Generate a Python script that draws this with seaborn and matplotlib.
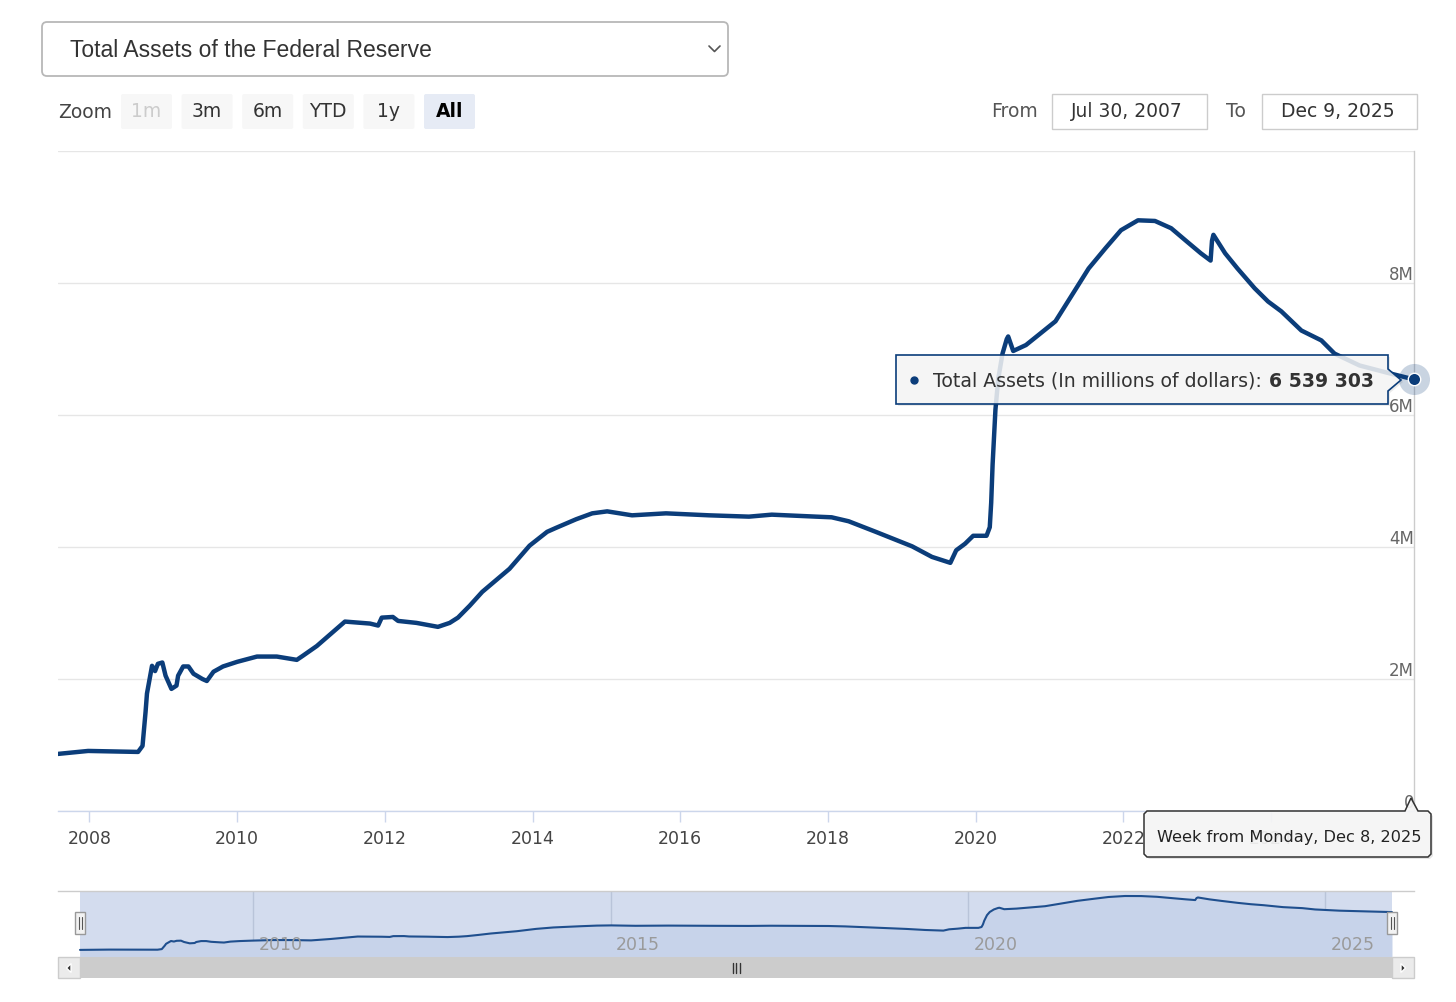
import numpy as np
import pandas as pd
import matplotlib
matplotlib.use("Agg")
import matplotlib.pyplot as plt
from matplotlib.patches import FancyBboxPatch, Rectangle, Polygon
import seaborn as sns

# ---------------- data ----------------
dates = [
    "2007-07-30", "2007-12-26", "2008-08-29", "2008-09-20", "2008-10-05", "2008-10-12",
    "2008-11-06", "2008-11-21", "2008-12-05", "2008-12-27", "2009-01-12", "2009-02-10",
    "2009-03-07", "2009-03-15", "2009-04-09", "2009-05-05", "2009-05-30", "2009-07-13",
    "2009-08-04", "2009-09-06", "2009-10-23", "2010-01-01", "2010-04-09", "2010-07-16",
    "2010-10-23", "2010-11-21", "2011-01-30", "2011-06-18", "2011-10-20", "2011-11-29",
    "2011-12-17", "2012-02-10", "2012-03-07", "2012-06-06", "2012-09-20", "2012-11-17",
    "2012-12-28", "2013-02-24", "2013-04-27", "2013-09-09", "2013-12-17", "2014-03-14",
    "2014-04-27", "2014-08-04", "2014-10-23", "2015-01-05", "2015-05-08", "2015-10-23",
    "2016-05-23", "2016-12-06", "2017-03-29", "2017-11-03", "2018-01-19", "2018-04-13",
    "2018-08-25", "2019-02-21", "2019-05-30", "2019-08-29", "2019-09-27", "2019-11-10",
    "2019-12-20", "2020-02-24", "2020-03-11", "2020-03-18", "2020-03-25", "2020-04-08",
    "2020-04-22", "2020-05-13", "2020-06-03", "2020-06-10", "2020-07-05", "2020-09-06",
    "2020-11-06", "2021-01-30", "2021-04-20", "2021-07-13", "2021-10-05", "2021-12-20",
    "2022-03-14", "2022-06-06", "2022-08-25", "2022-11-10", "2023-01-19", "2023-03-08",
    "2023-03-15", "2023-03-22", "2023-05-19", "2023-07-19", "2023-10-12", "2023-12-17",
    "2024-02-21", "2024-05-30", "2024-09-06", "2024-11-10", "2025-03-14", "2025-08-11",
    "2025-12-08",
]
assets = [  # millions of dollars
    865000, 910000, 895000, 986000, 1500000, 1780000,
    2200000, 2120000, 2230000, 2250000, 2050000, 1850000,
    1900000, 2050000, 2190000, 2190000, 2080000, 2000000,
    1970000, 2110000, 2190000, 2260000, 2340000, 2340000,
    2290000, 2350000, 2500000, 2870000, 2840000, 2810000,
    2930000, 2940000, 2880000, 2850000, 2790000, 2850000,
    2930000, 3110000, 3320000, 3670000, 4020000, 4230000,
    4290000, 4420000, 4510000, 4540000, 4480000, 4510000,
    4480000, 4460000, 4490000, 4460000, 4450000, 4390000,
    4230000, 4010000, 3850000, 3760000, 3950000, 4050000,
    4170000, 4170000, 4300000, 4670000, 5250000, 6080000,
    6550000, 6930000, 7150000, 7190000, 6970000, 7060000,
    7210000, 7420000, 7810000, 8220000, 8530000, 8800000,
    8950000, 8940000, 8830000, 8630000, 8450000, 8340000,
    8640000, 8730000, 8450000, 8220000, 7920000, 7720000,
    7570000, 7280000, 7130000, 6930000, 6750000, 6630000,
    6539303,
]

x_tick_years = [2008, 2010, 2012, 2014, 2016, 2018, 2020, 2022, 2024]
nav_tick_years = [2010, 2015, 2020, 2025]
y_ticks = [0, 2000000, 4000000, 6000000, 8000000, 10000000]
y_tick_labels = ["0", "2M", "4M", "6M", "8M", ""]

title = "Total Assets of the Federal Reserve"
series_name = "Total Assets (In millions of dollars)"
last_value_label = "6 539 303"
x_tooltip_text = "Week from Monday, Dec 8, 2025"
zoom_buttons = ["1m", "3m", "6m", "YTD", "1y", "All"]
range_from = "Jul 30, 2007"
range_to = "Dec 9, 2025"

NAVY = "#0b3d7a"

# ---------------- setup ----------------
sns.set_theme(style="white")
plt.rcParams["font.family"] = ["DejaVu Sans"]

W, H = 1456, 1003
fig = plt.figure(figsize=(W / 100, H / 100), dpi=100)
fig.patch.set_facecolor("white")


def frac(x0, y0, x1, y1):
    return [x0 / W, 1 - y1 / H, (x1 - x0) / W, (y1 - y0) / H]


df = pd.DataFrame({"date": pd.to_datetime(dates), "assets": assets})
start, end = df["date"].iloc[0], df["date"].iloc[-1]

# ---------------- main chart ----------------
ax = fig.add_axes(frac(58, 152, 1414, 812))
ax.set_facecolor("white")
sns.lineplot(data=df, x="date", y="assets", ax=ax, color=NAVY, lw=3.2, zorder=3)
ax.set_xlim(start, end)
ax.set_ylim(0, 10000000)
ax.set_xlabel("")
ax.set_ylabel("")

ax.set_yticks(y_ticks)
ax.yaxis.tick_right()
ax.set_yticklabels(y_tick_labels)
ax.tick_params(axis="y", length=0, pad=0, labelsize=12, labelcolor="#666666")
for t in ax.yaxis.get_major_ticks():
    t.label2.set_horizontalalignment("right")
    t.label2.set_verticalalignment("bottom")
ax.yaxis.grid(True, color="#e6e6e6", lw=1)
ax.xaxis.grid(False)

ax.set_xticks(pd.to_datetime([f"{y}-01-01" for y in x_tick_years]))
ax.set_xticklabels([str(y) for y in x_tick_years])
ax.tick_params(axis="x", length=8, width=1, color="#ccd6eb", labelsize=12.5,
               labelcolor="#444444", pad=5, direction="out", bottom=True)

for s in ["left", "top"]:
    ax.spines[s].set_visible(False)
ax.spines["right"].set_color("#cccccc")
ax.spines["right"].set_linewidth(1)
ax.spines["bottom"].set_color("#ccd6eb")
ax.spines["bottom"].set_linewidth(1)

# hover marker on last point
ax.scatter([end], [assets[-1]], s=500, color=NAVY, alpha=0.22, linewidths=0,
           clip_on=False, zorder=6)
ax.scatter([end], [assets[-1]], s=80, color=NAVY, edgecolor="white", linewidths=1,
           clip_on=False, zorder=7)

# ---------------- navigator ----------------
nav = fig.add_axes(frac(58, 892, 1414, 958))
nav.set_facecolor("white")
span = end - start
pad = span * (22 / 1311)
nav.axvspan(start, end, color="#d3dcee", lw=0, zorder=0)
nav.fill_between(df["date"], df["assets"], -200000, color="#c7d3ea", lw=0, zorder=1)
sns.lineplot(data=df, x="date", y="assets", ax=nav, color="#1f4f8e", lw=1.5, zorder=3)
nav.set_xlim(start - pad, end + pad)
nav.set_ylim(-200000, 9700000)
nav.set_xlabel("")
nav.set_ylabel("")
nav_dates = pd.to_datetime([f"{y}-01-01" for y in nav_tick_years])
nav.set_xticks(nav_dates)
nav.set_yticks([])
nav.xaxis.grid(True, color="#b9c4d9", lw=1, zorder=2)
nav.tick_params(axis="x", length=0, labelbottom=False)
for d, y in zip(nav_dates, nav_tick_years):
    nav.annotate(str(y), xy=(d, 0), xycoords=("data", "axes fraction"),
                 xytext=(4, 3), textcoords="offset points", ha="left", va="bottom",
                 color="#9a9a9a", fontsize=12.5, zorder=4)
for s in ["left", "right", "bottom"]:
    nav.spines[s].set_visible(False)
nav.spines["top"].set_color("#cccccc")
nav.spines["top"].set_linewidth(1)

# ---------------- overlay (UI chrome) ----------------
ov = fig.add_axes([0, 0, 1, 1])
ov.set_xlim(0, W)
ov.set_ylim(H, 0)
ov.axis("off")

# dropdown
ov.add_patch(FancyBboxPatch((42, 23), 686, 54, boxstyle="round,pad=0,rounding_size=5",
                            fc="white", ec="#b8b8b8", lw=1.3))
ov.text(70, 50, title, fontsize=16.5, family=["Liberation Sans", "DejaVu Sans"],
        color="#333333", va="center", ha="left")
ov.plot([709, 714.5, 720], [47, 52.5, 47], color="#555555", lw=1.2)

# zoom buttons
ov.text(58, 112, "Zoom", fontsize=13.5, color="#444444", va="center", ha="left")
for i, lab in enumerate(zoom_buttons):
    x0 = 121 + i * 60.6
    sel = lab == "All"
    ov.add_patch(FancyBboxPatch((x0, 95), 51, 35, boxstyle="round,pad=0,rounding_size=2",
                                fc="#e6ebf5" if sel else "#f7f7f7", ec="none"))
    ov.text(x0 + 25.5, 111, lab, fontsize=13.5, ha="center", va="center",
            color="#cccccc" if lab == "1m" else ("#000000" if sel else "#333333"),
            fontweight="bold" if sel else "normal")

# range inputs
ov.text(991, 111, "From", fontsize=13.5, color="#555555", va="center", ha="left")
ov.add_patch(Rectangle((1052, 95), 155, 35, fc="white", ec="#cccccc", lw=1))
ov.text(1127, 111, range_from, fontsize=13.5, color="#333333", va="center", ha="center")
ov.text(1226, 111, "To", fontsize=13.5, color="#555555", va="center", ha="left")
ov.add_patch(Rectangle((1262, 95), 155, 35, fc="white", ec="#cccccc", lw=1))
ov.text(1338, 111, range_to, fontsize=13.5, color="#333333", va="center", ha="center")

# series tooltip
tip = [(896, 356), (1388, 356), (1388, 370), (1401, 381), (1388, 392), (1388, 405), (896, 405)]
ov.add_patch(Polygon([(x + 2, y + 2) for x, y in tip], closed=True, fc="black",
                     alpha=0.08, ec="none"))
ov.add_patch(Polygon(tip, closed=True, fc="#f7f7f7", alpha=0.86, ec="none"))
ov.add_patch(Polygon(tip, closed=True, fill=False, ec=NAVY, lw=1.2))
ov.plot([914], [381], "o", ms=5, color=NAVY)
bold = ov.text(1374, 381, last_value_label, fontsize=13.6, fontweight="bold",
               color="#333333", ha="right", va="center")
ov.annotate(series_name + ":", xy=(0, 0), xycoords=bold, xytext=(-5, 0),
            textcoords="offset points", ha="right", va="bottom", fontsize=13.6,
            color="#333333")

# x tooltip
xtip = [(1147, 812), (1405, 812), (1411, 799), (1418, 812), (1428, 812), (1431, 815),
        (1431, 855), (1428, 858), (1147, 858), (1144, 855), (1144, 815)]
ov.add_patch(Polygon([(x + 2, y + 2) for x, y in xtip], closed=True, fc="black",
                     alpha=0.1, ec="none"))
ov.add_patch(Polygon(xtip, closed=True, fc="#f7f7f7", alpha=0.92, ec="none"))
ov.add_patch(Polygon(xtip, closed=True, fill=False, ec="#333333", lw=1.1))
ov.text(1157, 838, x_tooltip_text, fontsize=11.6, color="#222222", ha="left", va="center")

# navigator handles
for hx in (80, 1392):
    ov.add_patch(Rectangle((hx - 5, 913), 10, 22, fc="#f2f2f2", ec="#999999", lw=1))
    ov.plot([hx - 1.5, hx - 1.5], [918, 930], color="#555555", lw=0.8)
    ov.plot([hx + 1.5, hx + 1.5], [918, 930], color="#555555", lw=0.8)

# scrollbar
ov.add_patch(Rectangle((58, 958), 1356, 21, fc="#f2f2f2", ec="none"))
ov.add_patch(Rectangle((80, 958), 1312, 21, fc="#cccccc", ec="none"))
ov.add_patch(Rectangle((58, 958), 22, 21, fc="#ebebeb", ec="#cccccc", lw=1))
ov.add_patch(Rectangle((1392, 958), 22, 21, fc="#ebebeb", ec="#cccccc", lw=1))
ov.add_patch(Polygon([(71, 964.5), (71, 973.5), (66.5, 969)], closed=True, fc="#333333"))
ov.add_patch(Polygon([(1401, 964.5), (1401, 973.5), (1405.5, 969)], closed=True, fc="#333333"))
for gx in (732.5, 736, 739.5):
    ov.plot([gx, gx], [964, 974], color="#333333", lw=1)

fig.savefig("out.png", dpi=100, facecolor="white")
